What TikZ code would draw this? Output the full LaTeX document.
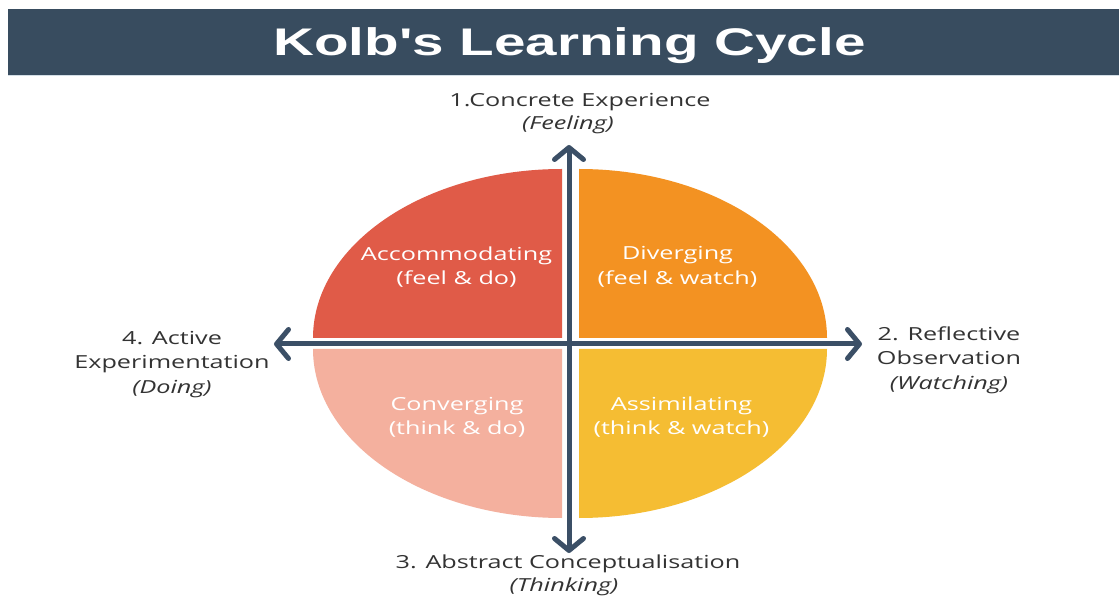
\documentclass[tikz,border=0pt]{standalone}
\usepackage{fontspec}
\usetikzlibrary{arrows.meta}
\newfontfamily\labfont[FakeStretch=1.4]{Open Sans}
\newfontfamily\ttlfont[FakeStretch=1.47]{Liberation Sans}
\definecolor{titlebg}{HTML}{384C5F}
\definecolor{titleline}{HTML}{D3DEE6}
\definecolor{accom}{HTML}{E05B48}
\definecolor{diverg}{HTML}{F39222}
\definecolor{converg}{HTML}{F4B09E}
\definecolor{assim}{HTML}{F5BD33}
\definecolor{axiscol}{HTML}{3B4F66}
\definecolor{labcol}{HTML}{333333}
\tikzset{
  quadtext/.style={text=white, align=center, font=\labfont\fontsize{18}{24.5}\selectfont, inner sep=0pt},
  outertext/.style={text=labcol, align=center, font=\labfont\fontsize{18}{24.5}\selectfont, inner sep=0pt},
  axis/.style={draw=axiscol, line width=5pt, {Straight Barb[length=12pt,width=29pt,round]}-{Straight Barb[length=12pt,width=29pt,round]}},
}
\begin{document}
\begin{tikzpicture}[x=1pt,y=1pt]
\useasboundingbox (0,0) rectangle (1119,595);
\fill[white] (0,0) rectangle (1119,595);
% title bar
\fill[titlebg] (8,586) rectangle (1119,520);
\fill[titleline] (8,520) rectangle (1119,518.5);
\node[text=white, font=\ttlfont\bfseries\fontsize{38.5}{40}\selectfont, anchor=base, inner sep=0pt] (title) at (569.5,539) {Kolb's Learning Cycle};
% quadrants
\fill[accom] (562,257) -- (562,426) arc[start angle=90, end angle=180, x radius=249pt, y radius=169pt] -- cycle;
\fill[diverg] (579,257) -- (827,257) arc[start angle=0, end angle=90, x radius=248pt, y radius=169pt] -- cycle;
\fill[converg] (562,246) -- (313,246) arc[start angle=180, end angle=270, x radius=249pt, y radius=169pt] -- cycle;
\fill[assim] (579,246) -- (579,77) arc[start angle=270, end angle=360, x radius=248pt, y radius=169pt] -- cycle;
% quadrant labels
\node[quadtext] (acc) at (456.5,328) {Accommodating\\(feel \& do)};
\node[quadtext] (div) at (677.5,328) {Diverging\\(feel \& watch)};
\node[quadtext] (con) at (457,177.7) {Converging\\(think \& do)};
\node[quadtext] (ass) at (681.5,177.7) {Assimilating\\(think \& watch)};
% axes
\coordinate (top) at (569,450);
\coordinate (bot) at (569,42);
\coordinate (lft) at (274,251);
\coordinate (rgt) at (862,251);
\draw[axis] (bot) -- (top);
\draw[axis] (lft) -- (rgt);
% outer labels
\node[outertext] (ce) at (580,493.2) {1.Concrete Experience};
\node[outertext] (cef) at (568,470.2) {\itshape (Feeling)};
\node[outertext] (ro) at (949,235) {2. Reflective\\Observation\\\itshape (Watching)};
\node[outertext] (ac) at (568,31.2) {3. Abstract Conceptualisation};
\node[outertext] (act) at (564,8.2) {\itshape (Thinking)};
\node[outertext] (ae) at (172,230.5) {4. Active\\Experimentation\\\itshape (Doing)};
\end{tikzpicture}
\end{document}
